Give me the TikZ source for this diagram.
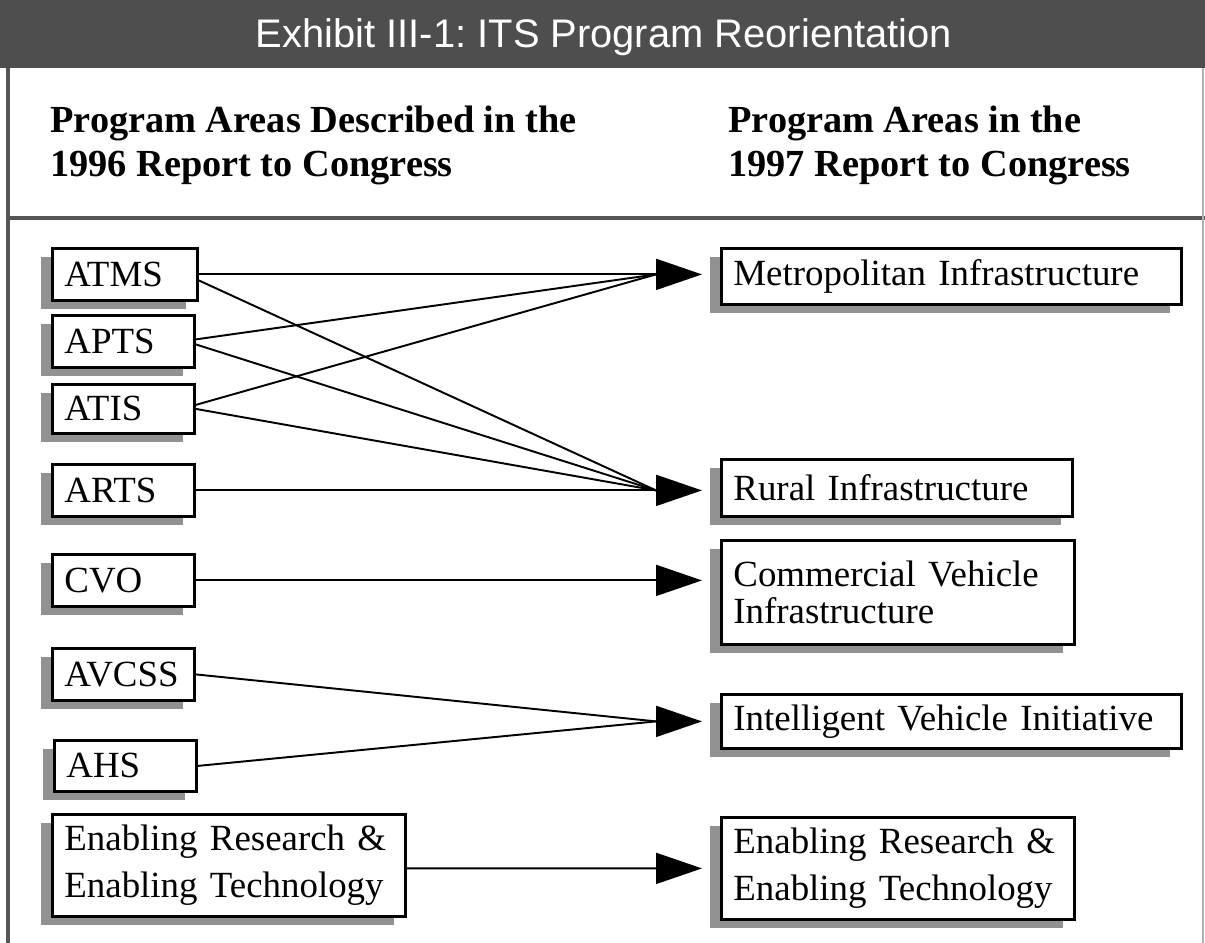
\documentclass[tikz,border=0pt]{standalone}
\usepackage{fontspec}
\setmainfont{Liberation Serif}
\setsansfont{Liberation Sans}
\usetikzlibrary{arrows.meta,shadows}
\definecolor{titlegray}{RGB}{78,78,78}
\definecolor{shadowgray}{RGB}{145,145,145}
\definecolor{framegray}{RGB}{85,85,85}
\tikzset{
  pbox/.style={draw=black, line width=1.6pt, fill=white, inner xsep=0.24cm, inner ysep=0pt,
    anchor=north west, align=left, font=\fontsize{21}{27}\selectfont,
    drop shadow={shadow xshift=-0.22cm, shadow yshift=-0.17cm, fill=shadowgray, opacity=1}},
  conn/.style={line width=1.1pt},
  arr/.style={line width=1.1pt, -{Triangle[length=0.92cm, width=0.62cm]}, shorten >=0.36cm},
  hdr/.style={anchor=north west, align=left, inner sep=0pt, font=\bfseries\fontsize{21.8}{25}\selectfont},
}
\begin{document}
\begin{tikzpicture}[x=0.02cm, y=-0.02cm]
\useasboundingbox (0,0) rectangle (1205,943);
\fill[white] (0,0) rectangle (1205,943);
% title bar
\fill[titlegray] (0,0) rectangle (1205,68);
\node[text=white, font=\sffamily\fontsize{22.7}{26}\selectfont] (title) at (604,37) {Exhibit III-1:~ITS Program Reorientation};
% frame
\draw[framegray, line width=2.2pt] (8,68) -- (8,943);
\draw[framegray, line width=2.2pt] (8,218) -- (1205,218);
\draw[gray!60, line width=0.6pt] (1203,68) -- (1203,943);
% headers
\node[hdr] (h1) at (50,106) {Program Areas Described in the\\1996 Report to Congress};
\node[hdr] (h2) at (728,106) {Program Areas in the\\1997 Report to Congress};
% left boxes
\node[pbox, text width=2.42cm, minimum height=1.04cm] (atms) at (51,247) {ATMS};
\node[pbox, text width=2.36cm, minimum height=1.04cm] (apts) at (51,314) {APTS};
\node[pbox, text width=2.36cm, minimum height=0.98cm] (atis) at (51,383) {ATIS};
\node[pbox, text width=2.36cm, minimum height=1.04cm] (arts) at (51,463) {ARTS};
\node[pbox, text width=2.36cm, minimum height=1.04cm] (cvo) at (51,553) {CVO};
\node[pbox, text width=2.36cm, minimum height=1.04cm] (avcss) at (51,647) {AVCSS};
\node[pbox, text width=2.36cm, minimum height=1.02cm] (ahs) at (53,739) {AHS};
\node[pbox, text width=6.58cm, minimum height=2.04cm] (enl) at (51,813) {Enabling Research \&\\Enabling Technology};
% right boxes
\node[pbox, text width=8.72cm, minimum height=1.12cm] (metro) at (720,247) {Metropolitan Infrastructure};
\node[pbox, text width=6.54cm, minimum height=1.14cm] (rural) at (720,458) {Rural Infrastructure};
\node[pbox, text width=6.58cm, minimum height=2.08cm, font=\fontsize{21}{21}\selectfont] (cvi) at (720,539) {Commercial Vehicle\\Infrastructure};
\node[pbox, text width=8.72cm, minimum height=1.08cm] (ivi) at (720,693) {Intelligent Vehicle Initiative};
\node[pbox, text width=6.58cm, minimum height=2.04cm] (enr) at (720,816) {Enabling Research \&\\Enabling Technology};
% arrow bases
\coordinate (mB) at ([xshift=-1.28cm]metro.west |- atms.east);
\coordinate (rB) at ([xshift=-1.28cm]rural.west |- arts.east);
\coordinate (cB) at ([xshift=-1.28cm]cvi.west |- cvo.east);
\coordinate (iB) at ([xshift=-1.28cm]ivi.west);
\coordinate (eB) at ([xshift=-1.28cm]enr.west);
% connectors
\draw[conn] (atms.east) -- (mB);
\draw[conn] ([yshift=-0.12cm]atms.east) -- (rB);
\draw[conn] ([yshift=0.04cm]apts.east) -- (mB);
\draw[conn] ([yshift=-0.06cm]apts.east) -- (rB);
\draw[conn] ([yshift=0.08cm]atis.east) -- (mB);
\draw[conn] (atis.east) -- (rB);
\draw[conn] (arts.east) -- (rB);
\draw[conn] (cvo.east) -- (cB);
\draw[conn] (avcss.east) -- (iB);
\draw[conn] (ahs.east) -- (iB);
\draw[conn] ([yshift=-0.06cm]enl.east) -- (eB);
% arrows
\draw[arr] (mB) -- (mB -| metro.west);
\draw[arr] (rB) -- (rB -| rural.west);
\draw[arr] (cB) -- (cB -| cvi.west);
\draw[arr] (iB) -- (ivi.west);
\draw[arr] (eB) -- (enr.west);
\end{tikzpicture}
\end{document}
